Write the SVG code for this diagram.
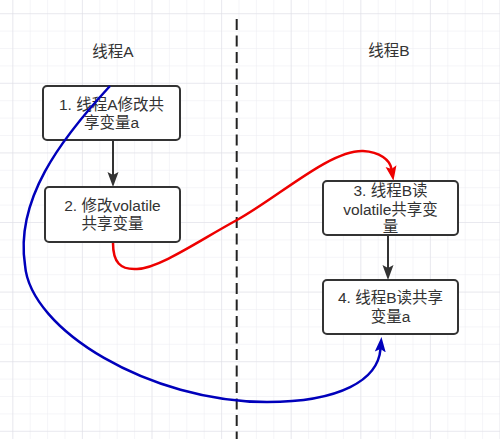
<svg xmlns="http://www.w3.org/2000/svg" width="500" height="439" viewBox="0 0 500 439">
<style>
.box{fill:#fff;stroke:#333;stroke-width:2}
.t{font-family:"Liberation Sans","Noto Sans CJK SC",sans-serif;font-size:15.5px;fill:#333;text-anchor:middle}
.arrow{fill:none;stroke:#333;stroke-width:2}
.red{fill:none;stroke:#ee0000;stroke-width:2.5}
.blue{fill:none;stroke:#0000bb;stroke-width:2.5}
</style>
<defs>
<pattern id="minor" patternUnits="userSpaceOnUse" x="12.3" y="13.2" width="17.4" height="17.4">
<path d="M0,0 H17.4 M0,0 V17.4" fill="none" stroke="#ececf1" stroke-width="1"/>
</pattern>
<pattern id="major" patternUnits="userSpaceOnUse" x="12.3" y="13.2" width="69.6" height="69.6">
<path d="M0,0 H69.6 M0,0 V69.6" fill="none" stroke="#dedee5" stroke-width="1"/>
</pattern>
<marker id="ab" markerUnits="userSpaceOnUse" markerWidth="16" markerHeight="12" refX="3" refY="6" orient="auto" viewBox="0 0 16 12">
<path d="M0,0.5 L15,6 L0,11.5 L3,6 z" fill="#333"/>
</marker>
<marker id="ar" markerUnits="userSpaceOnUse" markerWidth="16" markerHeight="12" refX="3" refY="6" orient="auto" viewBox="0 0 16 12">
<path d="M0,0.5 L15,6 L0,11.5 L3,6 z" fill="#ee0000"/>
</marker>
<marker id="au" markerUnits="userSpaceOnUse" markerWidth="16" markerHeight="12" refX="3" refY="6" orient="auto" viewBox="0 0 16 12">
<path d="M0,0.5 L15,6 L0,11.5 L3,6 z" fill="#0000bb"/>
</marker>
</defs>
<rect width="500" height="439" fill="#fff"/>
<rect width="500" height="439" fill="url(#minor)"/>
<rect width="500" height="439" fill="url(#major)"/>

<line x1="236.7" y1="19" x2="236.7" y2="439" stroke="#222" stroke-width="2" stroke-dasharray="11 5.5"/>

<g id="labelA"><text class="t" x="113" y="56.5">线程A</text></g>
<g id="labelB"><text class="t" x="389" y="56">线程B</text></g>

<g id="node1">
<rect class="box" x="43" y="86" width="137" height="54" rx="4"/>
<text class="t" x="111.5" y="109.5">1. 线程A修改共</text>
<text class="t" x="111.5" y="127.5">享变量a</text>
</g>
<g id="node2">
<rect class="box" x="45" y="187" width="135" height="55" rx="4"/>
<text class="t" x="112.5" y="211">2. 修改volatile</text>
<text class="t" x="112.5" y="229">共享变量</text>
</g>
<g id="node3">
<rect class="box" x="323" y="181" width="135" height="54" rx="4"/>
<text class="t" x="390.5" y="196">3. 线程B读</text>
<text class="t" x="390.5" y="214.5">volatile共享变</text>
<text class="t" x="390.5" y="232">量</text>
</g>
<g id="node4">
<rect class="box" x="323" y="280" width="135" height="54" rx="4"/>
<text class="t" x="390.5" y="303">4. 线程B读共享</text>
<text class="t" x="390.5" y="322">变量a</text>
</g>

<g id="connectors">
<path class="arrow" d="M113,140 V175" marker-end="url(#ab)"/>
<path class="arrow" d="M388,235 V268" marker-end="url(#ab)"/>
<path class="red" d="M113,243 C113,262 120,270 137,269 C160,268 200,240 237,220 C280,196 330,150 363,151 C380,152 390,160 391.5,169" marker-end="url(#ar)"/>
<path class="blue" d="M110,86 C60,140 15,200 25,265 C30,330 150,402 267,402 C340,402 378,380 380.5,349" marker-end="url(#au)"/>
</g>
</svg>
